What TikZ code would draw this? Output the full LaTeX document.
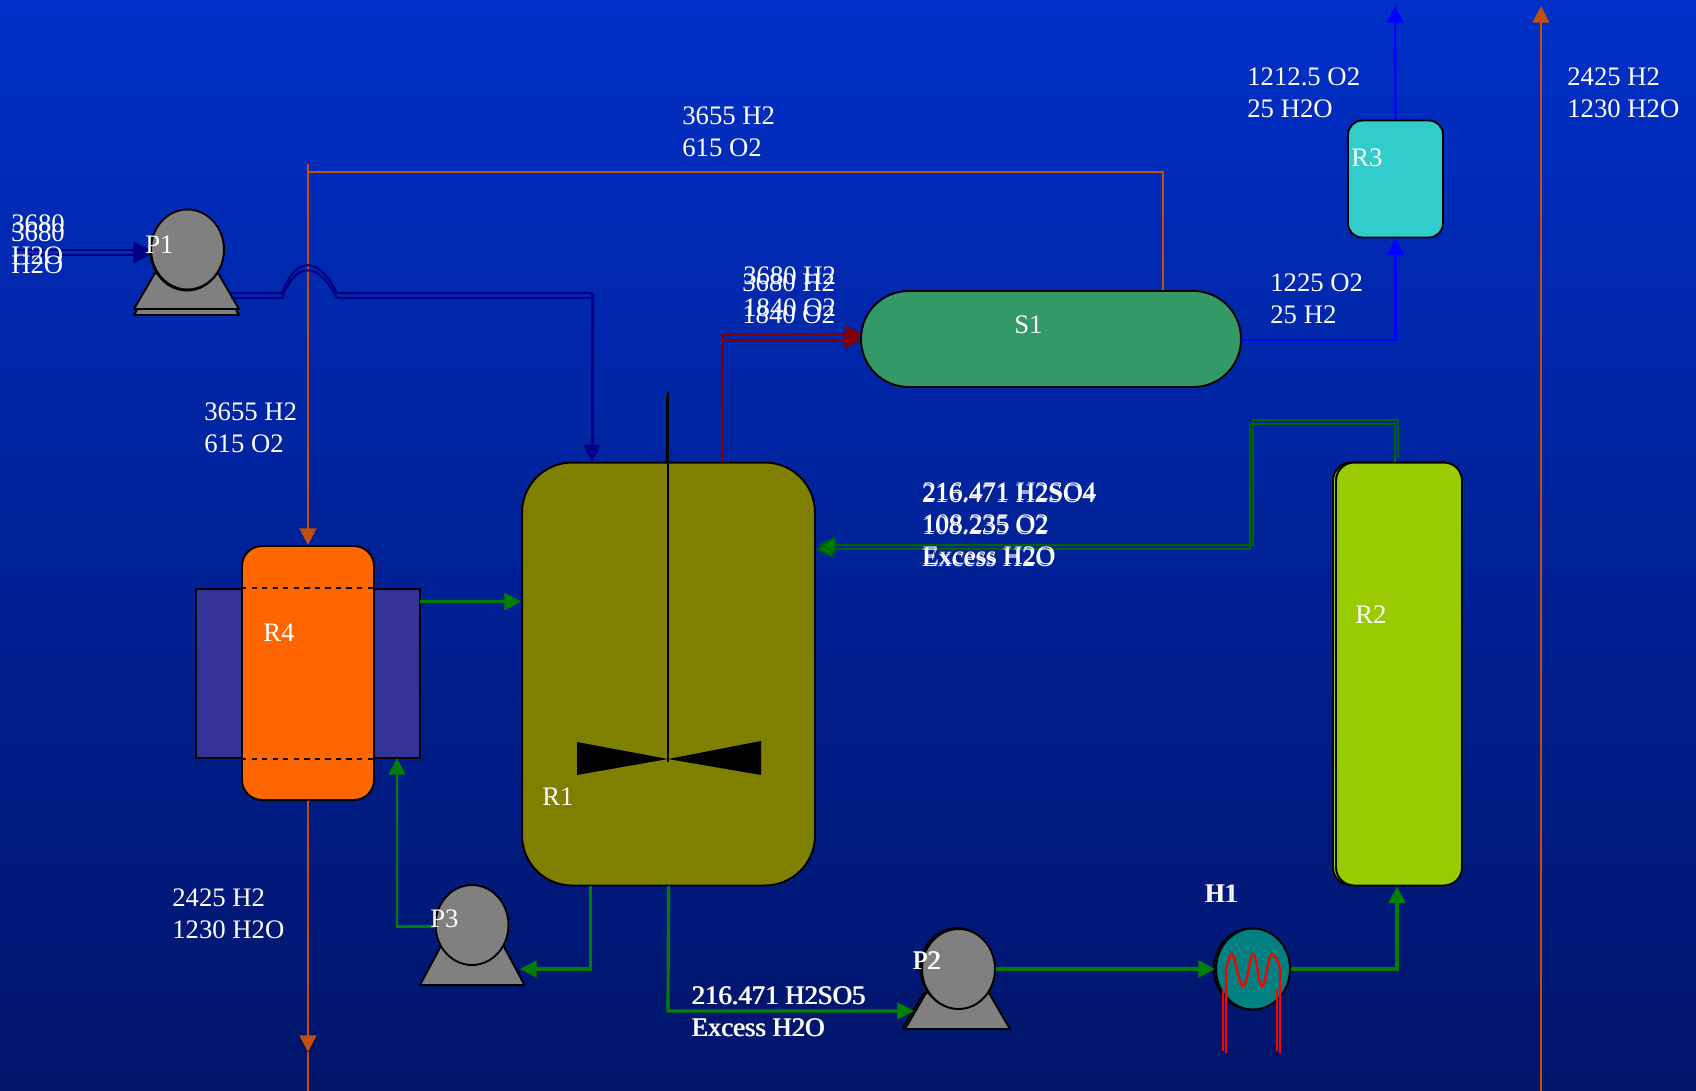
\documentclass[tikz,border=0pt]{standalone}
\usepackage{fontspec}
\setmainfont{Liberation Serif}
\usepackage{tikz}
\usetikzlibrary{arrows.meta,shapes.geometric}
\definecolor{skytop}{RGB}{0,48,200}
\definecolor{skybot}{RGB}{0,20,105}
\definecolor{rustline}{RGB}{192,80,10}
\definecolor{leafline}{RGB}{0,128,0}
\definecolor{darkleaf}{RGB}{0,102,0}
\definecolor{pumpgrey}{RGB}{128,128,128}
\definecolor{jacketblue}{RGB}{51,51,153}
\definecolor{navyline}{RGB}{0,0,128}
\definecolor{maroonline}{RGB}{128,0,0}
\newcommand{\pumpbase}[4]{% left x, right x, top y, base y; ellipse goes on top
  \draw[pumpbody] (#1,#4) -- ({#1+(#2-#1)*0.2},#3) -- ({#2-(#2-#1)*0.2},#3) -- (#2,#4) -- cycle;
}

\begin{document}
\begin{tikzpicture}[
  x=0.02cm, y=-0.02cm,
  >={Triangle[length=9.5pt,width=9.5pt]},
  vessel/.style={draw=black, line width=1.1pt, inner sep=0pt},
  pumpbody/.style={draw=black, line width=1.1pt, fill=pumpgrey, line join=round},
  pumphead/.style={ellipse, draw=black, line width=1.1pt, fill=pumpgrey, inner sep=0pt, minimum width=1.46cm, minimum height=1.6cm},
  lbl/.style={text=white, anchor=west, align=left, inner sep=0pt, font=\fontsize{15.2}{18.2}\selectfont},
  navypipe/.style={line width=1.2pt, draw=navyline},
  rustpipe/.style={line width=1.5pt, draw=rustline},
  greenpipe/.style={line width=1.8pt, draw=leafline},
  dkgreenpipe/.style={line width=1.2pt, draw=darkleaf, >={Triangle[length=9.5pt,width=9.5pt,fill=leafline]}},
  bluepipe/.style={line width=1.2pt, draw=blue},
  redpipe/.style={line width=1.6pt, draw=maroonline},
  coil/.style={line width=1.3pt, draw=red},
]
\useasboundingbox (0,0) rectangle (1696,1091);
\shade[top color=skytop, bottom color=skybot] (0,0) rectangle (1696,1091);

% Free ends of the streams
\coordinate (feedin) at (17,250);
\coordinate (p1out) at (231,293);
\coordinate (humpa) at (282,293);
\coordinate (humpb) at (337,293);
\coordinate (feedturn) at (592,293);
\coordinate (splitstub) at (308,164);
\coordinate (splitturn) at (308,172);
\coordinate (splitdrop) at (1163,172);
\coordinate (r4drain) at (308,1052);
\coordinate (r4end) at (308,1091);
\coordinate (h2obot) at (1541,1091);
\coordinate (h2otop) at (1541,6);
\coordinate (r3top) at (1395,6);
\coordinate (s1out) at (1241,340);
\coordinate (s1in) at (861,340);
\coordinate (r1riser) at (722,340);
\coordinate (jacketout) at (420,601.5);
\coordinate (jacketin) at (397,758);
\coordinate (p3out) at (435,926.5);
\coordinate (r1drain) at (590.5,969);
\coordinate (p3in) at (520,969);
\coordinate (r1bot) at (668,1011);
\coordinate (p2in) at (914,1011);
\coordinate (h1turn) at (1397,969);
\coordinate (r2top) at (1395,424);
\coordinate (r2turn) at (1250,424);
\coordinate (r2back) at (1250,549);

% Vessels
\node[vessel, fill=jacketblue, minimum width=4.48cm, minimum height=3.38cm] (jacket) at (308,673.5) {};
\node[vessel, fill={rgb,255:red,255;green,102;blue,0}, rounded corners=0.4cm, minimum width=2.64cm, minimum height=5.08cm] (r4) at (308,673) {};
\draw[dashed, line width=1pt] (r4.west |- jacket.north) -- (r4.east |- jacket.north);
\draw[dashed, line width=1pt] (r4.west |- jacket.south) -- (r4.east |- jacket.south);
\node[vessel, fill={rgb,255:red,128;green,128;blue,0}, rounded corners=1cm, minimum width=5.86cm, minimum height=8.46cm] (r1) at (668.5,674) {};
\node[vessel, fill={rgb,255:red,51;green,153;blue,102}, rounded corners=0.95cm, minimum width=7.6cm, minimum height=1.92cm] (s1) at (1051,339) {};
\node[vessel, fill={rgb,255:red,51;green,204;blue,204}, rounded corners=0.28cm, minimum width=1.9cm, minimum height=2.34cm] (r3) at (1395.5,179) {};
\node[vessel, fill={rgb,255:red,153;green,204;blue,0}, rounded corners=0.36cm, minimum width=2.52cm, minimum height=8.46cm] (r2rear) at (1396,674) {};
\node[vessel, fill={rgb,255:red,153;green,204;blue,0}, rounded corners=0.36cm, minimum width=2.52cm, minimum height=8.46cm] (r2) at (1399,674) {};

% Agitator
\coordinate (shafttop) at (668,392);
\coordinate (shaftend) at (668,762);
\draw[line width=1pt] (shafttop) -- (shaftend);
\draw[line width=1.6pt] (667.5,396) -- (r1.north -| 667.5,462);
\fill[black] (577,742) -- (668,759) -- (761,741) -- (761,775) -- (668,759) -- (577,775) -- cycle;

% Pumps
\pumpbase{134}{239}{279}{315}
\pumpbase{134}{239}{273}{309}
\node[pumphead] (p1rear) at (187,250.5) {};
\node[pumphead] (p1) at (187.5,249.5) {};
\pumpbase{420}{524.5}{946}{985}
\node[pumphead] (p3) at (472,925) {};
\pumpbase{903}{1008}{993}{1028}
\pumpbase{905}{1010}{993}{1029}
\node[pumphead] (p2rear) at (957,968) {};
\node[pumphead] (p2) at (958.5,969) {};

% Heater
\node[pumphead, fill={rgb,255:red,0;green,128;blue,128}, minimum width=1.48cm, minimum height=1.62cm] (h1rear) at (1251,969) {};
\node[pumphead, fill={rgb,255:red,0;green,128;blue,128}, minimum width=1.48cm, minimum height=1.62cm] (h1) at (1253,969) {};
\draw[coil] (1226,1053) -- (1226,968) -- (1231,954) .. controls (1235,950) and (1238,986) .. (1243,986) .. controls (1248,986) and (1249,954) .. (1253,954) .. controls (1257,954) and (1258,986) .. (1262,986) .. controls (1266,986) and (1268,954) .. (1272,954) .. controls (1276,954) and (1280,968) .. (1280,968) -- (1280,1053);
\draw[coil] (1223,1051) -- (1223,990);
\draw[coil] (1277,1051) -- (1277,990);

% Rust streams
\draw[rustpipe, ->] (splitdrop |- s1.north) -- (splitdrop) -- (splitturn) -- (splitturn |- r4.north);
\draw[rustpipe] (splitstub) -- (splitturn);
\draw[rustpipe, ->] (r4.south) -- (r4drain);
\draw[rustpipe] (r4drain) -- (r4end);
\draw[rustpipe, ->] (h2obot) -- (h2otop);

% Feed to P1 and on to R1
\foreach \dy in {0,5}{
  \begin{scope}[transform canvas={shift={(0,\dy)}}]
    \draw[navypipe, ->] (feedin) -- (p1.west |- feedin);
    \draw[navypipe] (p1out) -- (humpa) .. controls (296,256) and (318,256) .. (humpb) -- (feedturn);
  \end{scope}
}
\draw[navypipe, line width=1.7pt, ->] (feedturn) -- (feedturn |- r1.north);

% Blue streams
\draw[bluepipe, ->] (s1out) -| (r3.south);
\draw[bluepipe, ->] (r3.north) -- (r3top);

% Red stream
\foreach \dx/\dy in {0/0,1/-6}{
  \draw[redpipe, ->, transform canvas={shift={(\dx,\dy)}}] (r1riser |- r1.north) -- (r1riser) -- (s1in);
}

% Green streams
\draw[greenpipe, ->] (jacketout) -- (jacketout -| r1.west);
\draw[greenpipe, line width=1.2pt, ->] (p3out) -| (jacketin);
\draw[greenpipe, ->] (r1drain |- r1.south) -- (r1drain) -- (p3in);
\draw[greenpipe, ->] (r1.south) -- (r1bot) -- (p2in);
\draw[greenpipe, ->] (p2.east) -- (h1.west);
\draw[greenpipe, ->] (h1.east) -- (h1turn) -- (h1turn |- r2.south);
\foreach \dx/\dy in {0/0,3/-4}{
  \draw[dkgreenpipe, ->, transform canvas={shift={(\dx,\dy)}}] (r2top |- r2.north) -- (r2top) -- (r2turn) -- (r2back) -- (r2back -| r1.east);
}

% Stream labels
\node[lbl] (feedlbla) at (11,240) {3680\\H2O};
\node[lbl] (feedlblb) at (11,249) {3680\\H2O};
\node[lbl] (recyclelbl) at (682,132) {3655 H2\\615 O2};
\node[lbl] (r4inlbl) at (204,428) {3655 H2\\615 O2};
\node[lbl] (r4outlbl) at (172,914) {2425 H2\\1230 H2O};
\node[lbl] (h2olbl) at (1567,93) {2425 H2\\1230 H2O};
\node[lbl] (r3outlbl) at (1247,93) {1212.5 O2\\25 H2O};
\node[lbl] (s1outlbl) at (1270,299) {1225 O2\\25 H2};
\node[lbl] (s1inlbla) at (743,292) {3680 H2\\1840 O2};
\node[lbl] (s1inlblb) at (742,299) {3680 H2\\1840 O2};
\node[lbl] (r1inlbla) at (921.5,526) {216.471 H2SO4\\108.235 O2\\Excess H2O};
\node[lbl] (r1inlblb) at (922.5,523.5) {216.471 H2SO4\\108.235 O2\\Excess H2O};
\node[lbl] (p2inlbla) at (691,1012) {216.471 H2SO5\\Excess H2O};
\node[lbl] (p2inlblb) at (692,1012) {216.471 H2SO5\\Excess H2O};

% Unit labels
\node[lbl] (r1lbl) at (542,797) {R1};
\node[lbl] (r2lbl) at (1355,615) {R2};
\node[lbl] (r3lbl) at (1351,158) {R3};
\node[lbl] (r4lbl) at (263,633) {R4};
\node[lbl] (s1lbl) at (1014,325) {S1};
\node[lbl] (p1lbl) at (145,245) {P1};
\node[lbl] (p2lbla) at (912,961) {P2};
\node[lbl] (p2lblb) at (913,961) {P2};
\node[lbl] (p3lbl) at (430,919) {P3};
\node[lbl] (h1lbla) at (1204,894) {H1};
\node[lbl] (h1lblb) at (1206,894) {H1};
\end{tikzpicture}
\end{document}
